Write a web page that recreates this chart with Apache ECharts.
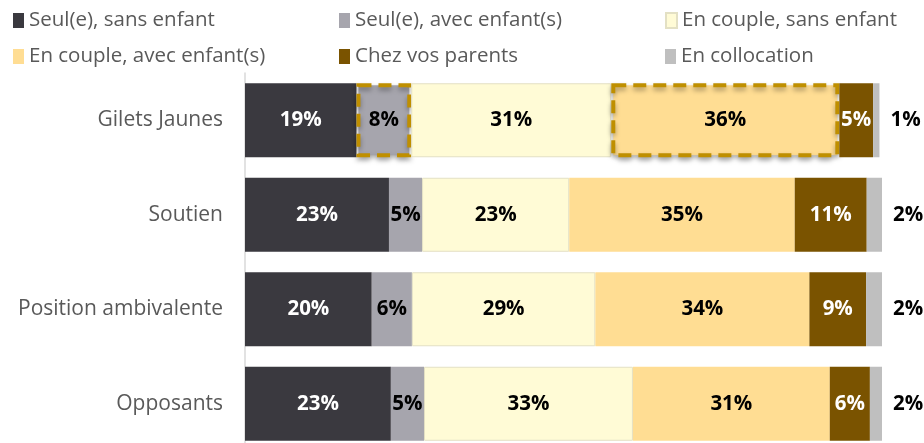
<!DOCTYPE html>
<html>
<head>
<meta charset="utf-8">
<script src="https://cdn.jsdelivr.net/npm/echarts@6/dist/echarts.min.js"></script>
<style>
  html, body { margin: 0; padding: 0; background: #fff; }
  #main { width: 924px; height: 443px; }
</style>
</head>
<body>
<div id="main"></div>
<script>
const categories = ["Gilets Jaunes", "Soutien", "Position ambivalente", "Opposants"];

const seulSans = [17.5, 22.6, 19.9, 22.9];
const seulSansLabels = ["19%", "23%", "20%", "23%"];
const seulAvec = [8.6, 5.2, 6.3, 5.2];
const seulAvecLabels = ["8%", "5%", "6%", "5%"];
const coupleSans = [31.4, 23.1, 28.8, 32.8];
const coupleSansLabels = ["31%", "23%", "29%", "33%"];
const coupleAvec = [35.8, 35.4, 33.6, 30.9];
const coupleAvecLabels = ["36%", "35%", "34%", "31%"];
const parents = [5.3, 11.3, 8.9, 6.3];
const parentsLabels = ["5%", "11%", "9%", "6%"];
const collocation = [1.0, 2.5, 2.5, 2.0];
const collocationLabels = ["1%", "2%", "2%", "2%"];

// segments framed with a dashed box (series name -> category index)
const highlighted = { "Seul(e), avec enfant(s)": [0], "En couple, avec enfant(s)": [0] };

const FONT = "Open Sans";

const seriesDefs = [
  { name: "Seul(e), sans enfant", values: seulSans, labels: seulSansLabels, color: "#3A393F", text: "#fff" },
  { name: "Seul(e), avec enfant(s)", values: seulAvec, labels: seulAvecLabels, color: "#A6A5AD", text: "#000" },
  { name: "En couple, sans enfant", values: coupleSans, labels: coupleSansLabels, color: "#FFFBD6", text: "#000", border: "#E3E0C4" },
  { name: "En couple, avec enfant(s)", values: coupleAvec, labels: coupleAvecLabels, color: "#FFDD93", text: "#000" },
  { name: "Chez vos parents", values: parents, labels: parentsLabels, color: "#7A5300", text: "#fff" },
  { name: "En collocation", values: collocation, labels: collocationLabels, color: "#BFBFBF", text: "#000", outside: true }
];

const legendPos = [
  [8, 5], [334, 5], [660, 5],
  [8, 41], [334, 41], [660, 41]
];

const myChart = echarts.init(document.getElementById("main"));

const series = seriesDefs.map(function (d) {
  const marked = highlighted[d.name] || [];
  return {
    name: d.name,
    type: "bar",
    stack: "total",
    barWidth: 74,
    itemStyle: {
      color: d.color,
      borderColor: d.border || d.color,
      borderWidth: d.border ? 1 : 0
    },
    label: {
      show: true,
      position: d.outside ? "right" : "inside",
      distance: 11,
      color: d.text,
      fontFamily: FONT,
      fontWeight: "bold",
      fontSize: 20.5,
      formatter: function (p) { return d.labels[p.dataIndex]; }
    },
    data: d.values.map(function (v, i) {
      if (marked.indexOf(i) < 0) return v;
      return {
        value: v,
        itemStyle: {
          borderColor: "#BF8F00",
          borderWidth: 4,
          borderType: [13, 7],
          shadowColor: "rgba(0,0,0,0.35)",
          shadowBlur: 5,
          shadowOffsetY: 3
        },
        z: 5
      };
    })
  };
});

const option = {
  animation: false,
  legend: seriesDefs.map(function (d, i) {
    return {
      data: [d.name],
      left: legendPos[i][0],
      top: legendPos[i][1],
      icon: "rect",
      itemWidth: 11,
      itemHeight: 15,
      textStyle: { color: "#595959", fontFamily: FONT, fontSize: 20.5 }
    };
  }),
  grid: { left: 245, right: 42, top: 73, height: 378, outerBoundsMode: "none" },
  xAxis: {
    type: "value",
    min: 0,
    max: 100,
    show: false
  },
  yAxis: {
    type: "category",
    data: categories,
    inverse: true,
    axisLine: { show: true, lineStyle: { color: "#D9D9D9", width: 1.5 } },
    axisTick: { show: false },
    axisLabel: { color: "#595959", fontFamily: FONT, fontSize: 21, margin: 22 }
  },
  series: series
};

myChart.setOption(option);
window.addEventListener("resize", function () { myChart.resize(); });
</script>
</body>
</html>
